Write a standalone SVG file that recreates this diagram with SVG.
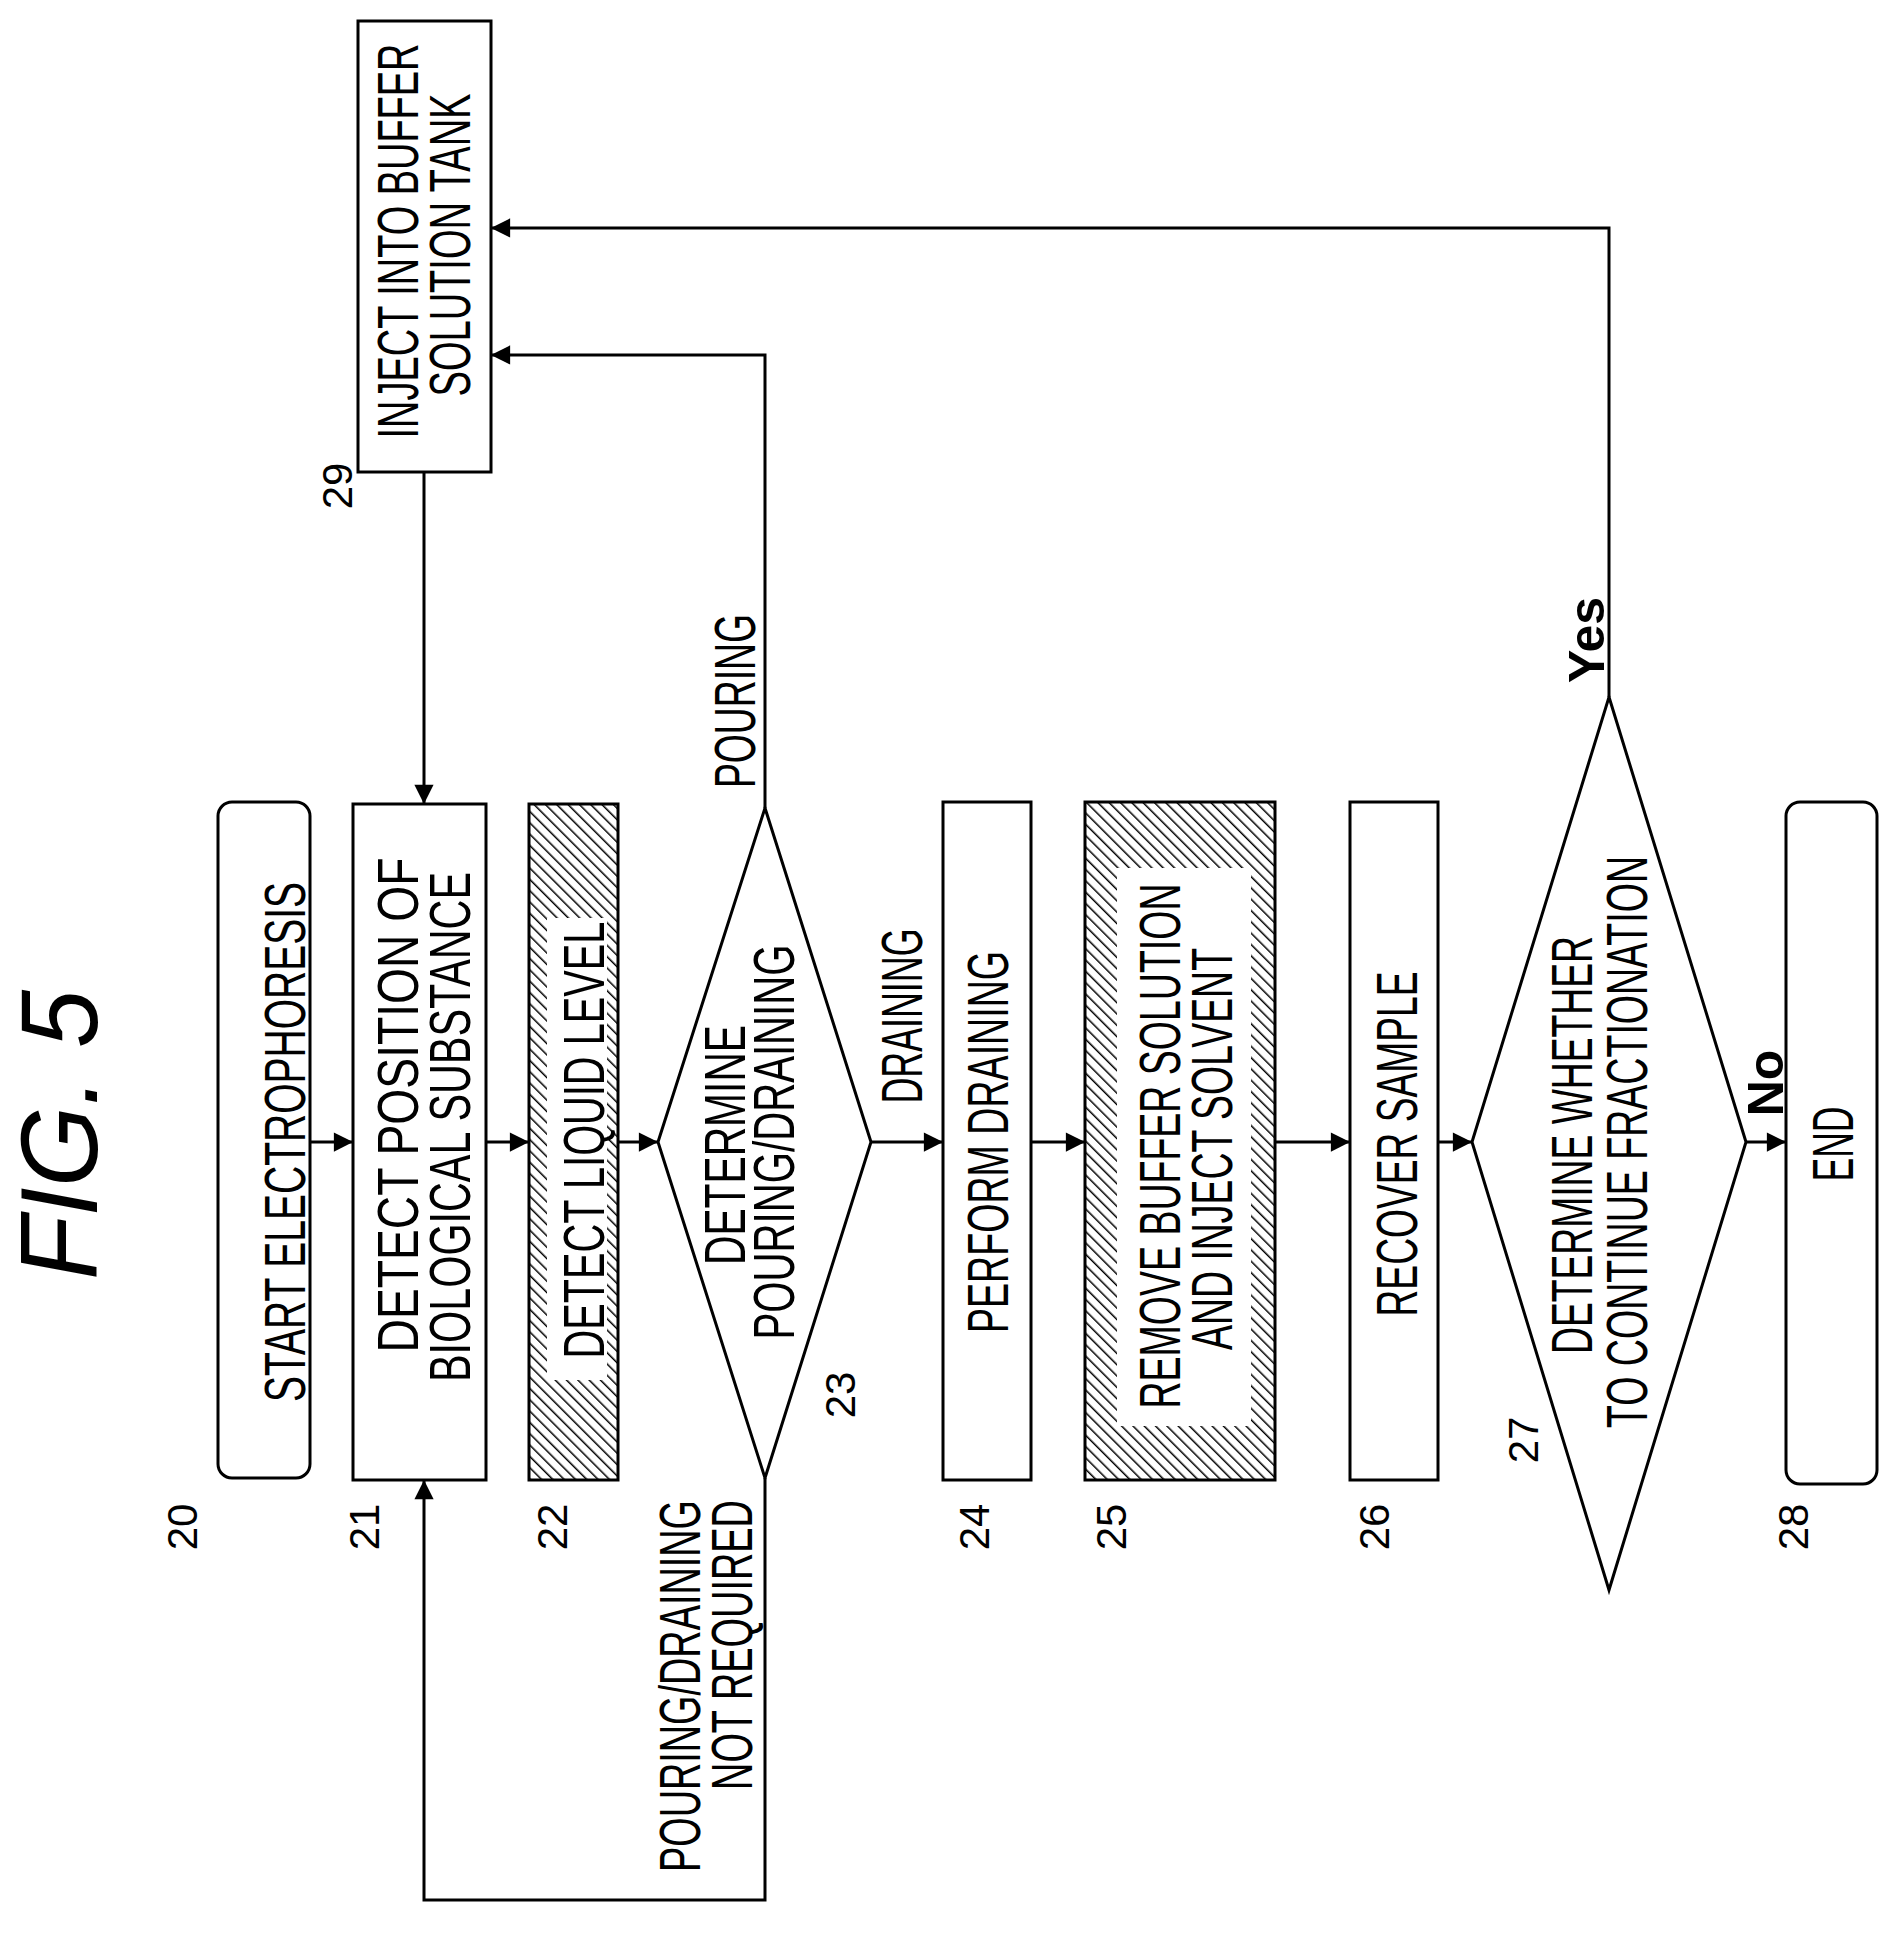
<svg xmlns="http://www.w3.org/2000/svg" width="1901" height="1954" viewBox="0 0 1901 1954">
<style>
.b{fill:#fff;stroke:#000;stroke-width:3}
.h{fill:url(#hatch);stroke:#000;stroke-width:3}
.w{fill:#fff;stroke:none}
.t{font-family:"Liberation Sans",Arial,sans-serif;font-size:58px;text-anchor:middle;fill:#000}
.n{font-family:"Liberation Sans",Arial,sans-serif;font-size:42px;text-anchor:middle;fill:#000}
.y{font-family:"Liberation Sans",Arial,sans-serif;font-size:50px;font-weight:bold;text-anchor:middle;fill:#000}
.f{font-family:"Liberation Sans",Arial,sans-serif;font-size:110px;font-style:italic;text-anchor:middle;fill:#000}
.c{fill:none;stroke:#000;stroke-width:3}
</style>
<defs>
<pattern id="hatch" patternUnits="userSpaceOnUse" width="8" height="8" patternTransform="rotate(-45)">
<rect width="8" height="8" fill="#fff"/><line x1="0" y1="0" x2="0" y2="8" stroke="#000" stroke-width="3"/>
</pattern>
<marker id="a" viewBox="0 0 10 10" refX="10" refY="5" markerWidth="8" markerHeight="8" markerUnits="userSpaceOnUse" orient="auto" style="overflow:visible">
<path d="M0,0 L10,5 L0,10 z" fill="#000" transform="scale(2.4) translate(-5.8,-2.9)"/>
</marker>
</defs>
<text class="f" transform="translate(97,1135) rotate(-90)" textLength="290" lengthAdjust="spacingAndGlyphs">FIG. 5</text>
<g id="n20"><rect class="b" x="218" y="802" width="92" height="676" rx="14"/>
<text class="t" transform="translate(305,1142) rotate(-90)" textLength="520" lengthAdjust="spacingAndGlyphs">START ELECTROPHORESIS</text>
<text class="n" transform="translate(197,1527) rotate(-90)">20</text></g>
<g id="n21"><rect class="b" x="353" y="804" width="133" height="676"/>
<text class="t" transform="translate(418,1105) rotate(-90)" textLength="495" lengthAdjust="spacingAndGlyphs">DETECT POSITION OF</text>
<text class="t" transform="translate(470,1127) rotate(-90)" textLength="510" lengthAdjust="spacingAndGlyphs">BIOLOGICAL SUBSTANCE</text>
<text class="n" transform="translate(379,1527) rotate(-90)">21</text></g>
<g id="n22"><rect class="h" x="529" y="804" width="89" height="676"/><rect class="w" x="547" y="918" width="60" height="462"/>
<text class="t" transform="translate(604,1140) rotate(-90)" textLength="437" lengthAdjust="spacingAndGlyphs">DETECT LIQUID LEVEL</text>
<text class="n" transform="translate(567,1527) rotate(-90)">22</text></g>
<g id="n23"><polygon class="b" points="765,808 871,1142 765,1478 658,1142"/>
<text class="t" transform="translate(745,1145) rotate(-90)" textLength="240" lengthAdjust="spacingAndGlyphs">DETERMINE</text>
<text class="t" transform="translate(794,1142) rotate(-90)" textLength="395" lengthAdjust="spacingAndGlyphs">POURING/DRAINING</text>
<text class="n" transform="translate(855,1395) rotate(-90)">23</text></g>
<g id="n24"><rect class="b" x="943" y="802" width="88" height="678"/>
<text class="t" transform="translate(1008,1142) rotate(-90)" textLength="382" lengthAdjust="spacingAndGlyphs">PERFORM DRAINING</text>
<text class="n" transform="translate(989,1527) rotate(-90)">24</text></g>
<g id="n25"><rect class="h" x="1085" y="802" width="190" height="678"/><rect class="w" x="1117" y="868" width="134" height="558"/>
<text class="t" transform="translate(1180,1146) rotate(-90)" textLength="525" lengthAdjust="spacingAndGlyphs">REMOVE BUFFER SOLUTION</text>
<text class="t" transform="translate(1232,1149) rotate(-90)" textLength="402" lengthAdjust="spacingAndGlyphs">AND INJECT SOLVENT</text>
<text class="n" transform="translate(1126,1527) rotate(-90)">25</text></g>
<g id="n26"><rect class="b" x="1350" y="802" width="88" height="678"/>
<text class="t" transform="translate(1417,1144) rotate(-90)" textLength="345" lengthAdjust="spacingAndGlyphs">RECOVER SAMPLE</text>
<text class="n" transform="translate(1389,1527) rotate(-90)">26</text></g>
<g id="n27"><polygon class="b" points="1609,697 1746,1142 1609,1590 1472,1142"/>
<text class="t" transform="translate(1592,1145) rotate(-90)" textLength="418" lengthAdjust="spacingAndGlyphs">DETERMINE WHETHER</text>
<text class="t" transform="translate(1647,1142) rotate(-90)" textLength="572" lengthAdjust="spacingAndGlyphs">TO CONTINUE FRACTIONATION</text>
<text class="n" transform="translate(1538,1440) rotate(-90)">27</text></g>
<g id="n28"><rect class="b" x="1786" y="802" width="91" height="682" rx="14"/>
<text class="t" transform="translate(1853,1144) rotate(-90)" textLength="75" lengthAdjust="spacingAndGlyphs">END</text>
<text class="n" transform="translate(1808,1527) rotate(-90)">28</text></g>
<g id="n29"><rect class="b" x="358" y="21" width="133" height="451"/>
<text class="t" transform="translate(418,241) rotate(-90)" textLength="395" lengthAdjust="spacingAndGlyphs">INJECT INTO BUFFER</text>
<text class="t" transform="translate(470,245) rotate(-90)" textLength="303" lengthAdjust="spacingAndGlyphs">SOLUTION TANK</text>
<text class="n" transform="translate(352,486) rotate(-90)">29</text></g>
<g id="connectors">
<line class="c" x1="310" y1="1142" x2="353" y2="1142" marker-end="url(#a)"/>
<line class="c" x1="486" y1="1142" x2="529" y2="1142" marker-end="url(#a)"/>
<line class="c" x1="618" y1="1142" x2="658" y2="1142" marker-end="url(#a)"/>
<line class="c" x1="871" y1="1142" x2="943" y2="1142" marker-end="url(#a)"/>
<line class="c" x1="1031" y1="1142" x2="1085" y2="1142" marker-end="url(#a)"/>
<line class="c" x1="1275" y1="1142" x2="1350" y2="1142" marker-end="url(#a)"/>
<line class="c" x1="1438" y1="1142" x2="1472" y2="1142" marker-end="url(#a)"/>
<line class="c" x1="1746" y1="1142" x2="1786" y2="1142" marker-end="url(#a)"/>
<line class="c" x1="424" y1="472" x2="424" y2="804" marker-end="url(#a)"/>
<polyline class="c" points="765,808 765,355 491,355" marker-end="url(#a)"/>
<polyline class="c" points="1609,697 1609,228 491,228" marker-end="url(#a)"/>
<polyline class="c" points="765,1478 765,1900 424,1900 424,1480" marker-end="url(#a)"/>
<text class="t" transform="translate(755,701) rotate(-90)" textLength="174" lengthAdjust="spacingAndGlyphs">POURING</text>
<text class="t" transform="translate(922,1016) rotate(-90)" textLength="175" lengthAdjust="spacingAndGlyphs">DRAINING</text>
<text class="t" transform="translate(700,1686) rotate(-90)" textLength="372" lengthAdjust="spacingAndGlyphs">POURING/DRAINING</text>
<text class="t" transform="translate(752,1645) rotate(-90)" textLength="290" lengthAdjust="spacingAndGlyphs">NOT REQUIRED</text>
<text class="y" transform="translate(1604,640) rotate(-90)">Yes</text>
<text class="y" transform="translate(1783,1083) rotate(-90)">No</text>
</g>
</svg>
